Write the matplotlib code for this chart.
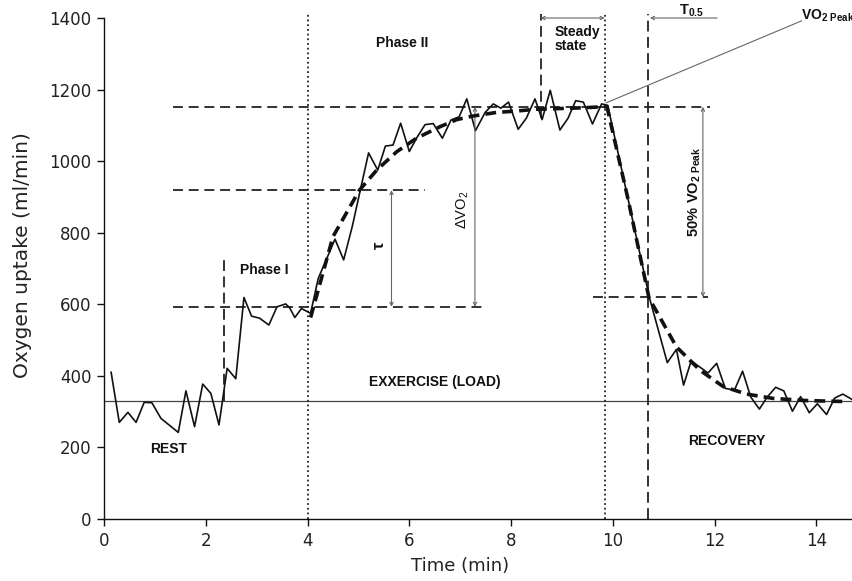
import matplotlib
matplotlib.use("Agg")
import matplotlib.pyplot as plt

# Measured breath-averaged VO2 (ml/min) against time (min)
time_min = [0.14, 0.30, 0.47, 0.63, 0.79, 0.94, 1.12, 1.46, 1.61, 1.78, 1.94, 2.10,
            2.26, 2.42, 2.59, 2.75, 2.90, 3.06, 3.24, 3.40, 3.57, 3.65, 3.75, 3.88,
            4.06, 4.21, 4.54, 4.71, 4.88, 5.04, 5.20, 5.38, 5.53, 5.68, 5.83, 6.00,
            6.15, 6.31, 6.47, 6.65, 6.82, 6.98, 7.13, 7.30, 7.49, 7.65, 7.80, 7.95,
            8.14, 8.30, 8.47, 8.61, 8.77, 8.96, 9.12, 9.27, 9.42, 9.60, 9.78, 9.90,
            10.72, 11.07, 11.25, 11.39, 11.54, 11.87, 12.04, 12.21, 12.39, 12.55,
            12.71, 12.88, 13.03, 13.20, 13.36, 13.53, 13.69, 13.86, 14.02, 14.20,
            14.36, 14.52, 14.69]
vo2_ml_min = [410, 270, 298, 270, 326, 325, 281, 242, 358, 258, 377, 351,
              263, 421, 392, 619, 567, 561, 542, 593, 601, 590, 563, 588,
              575, 672, 782, 724, 818, 921, 1023, 975, 1042, 1045, 1106, 1027,
              1066, 1102, 1105, 1064, 1115, 1124, 1174, 1085, 1136, 1160, 1148, 1165,
              1089, 1120, 1174, 1116, 1198, 1087, 1120, 1169, 1165, 1104, 1160, 1156,
              618, 437, 474, 374, 442, 408, 435, 365, 360, 413,
              341, 307, 340, 368, 358, 301, 342, 297, 322, 292,
              338, 349, 335]

# Mono-exponential model fits (on- and off-kinetics)
on_fit_t = [4.06, 4.50, 5.02, 5.36, 5.75, 6.14, 6.60, 6.93, 7.25, 7.71, 8.10, 8.50, 9.21, 9.85]
on_fit_vo2 = [563, 789, 919, 975, 1026, 1064, 1096, 1116, 1126, 1136, 1140, 1145, 1148, 1152]
off_fit_t = [9.88, 10.30, 10.71, 11.25, 11.71, 12.17, 12.63, 13.15, 13.80, 14.62]
off_fit_vo2 = [1155, 893, 618, 481, 416, 370, 349, 337, 331, 328]

# Reference levels and phase boundaries
rest_level = 330
phase1_level = 593
tau_level = 919
peak_level = 1152
half_level = 620
exercise_start = 4.0
steady_end = 9.84
t_half = 10.7
phase1_mark = 2.36
steady_start = 8.58

x_ticks = [0, 2, 4, 6, 8, 10, 12, 14]
y_ticks = [0, 200, 400, 600, 800, 1000, 1200, 1400]

plt.rcParams["mathtext.fontset"] = "custom"
plt.rcParams["mathtext.rm"] = "Liberation Sans"
plt.rcParams["mathtext.bf"] = "Liberation Sans:bold"

W, H = 853, 581
fig = plt.figure(figsize=(W / 100, H / 100), dpi=100)
ax = fig.add_axes([104 / W, 62 / H, (W - 104) / W, (519 - 18) / H])
ax.set_xlim(0, 14.72)
ax.set_ylim(0, 1400)

ink = "#111111"
thin = "#666666"

# baseline (rest) level across the whole record
ax.axhline(rest_level, color="#444444", lw=0.9, zorder=1)

# horizontal reference levels
dash = dict(color="#222222", lw=1.3, dashes=(5.5, 3.2), zorder=2)
ax.plot([1.36, 7.42], [phase1_level, phase1_level], **dash)
ax.plot([1.36, 6.31], [tau_level, tau_level], **dash)
ax.plot([1.36, 11.9], [peak_level, peak_level], **dash)
ax.plot([9.61, 11.87], [half_level, half_level], **dash)

# vertical phase boundaries
dot = dict(color="#222222", lw=1.3, dashes=(1, 1.6), zorder=2, clip_on=False)
ax.plot([exercise_start, exercise_start], [0, 1410], **dot)
ax.plot([steady_end, steady_end], [0, 1410], **dot)
ax.plot([t_half, t_half], [0, 1410], color="#222222", lw=1.3, dashes=(6, 3), zorder=2, clip_on=False)
ax.plot([phase1_mark, phase1_mark], [330, 730], color="#222222", lw=1.3, dashes=(6, 3), zorder=2)
ax.plot([steady_start, steady_start], [1120, 1410], color="#222222", lw=1.3, dashes=(6, 3), zorder=2, clip_on=False)

# measured data and model fits
ax.plot(time_min, vo2_ml_min, color=ink, lw=1.2, zorder=3)
ax.plot(on_fit_t, on_fit_vo2, color=ink, lw=2.6, dashes=(3, 1.7), zorder=4)
ax.plot(off_fit_t, off_fit_vo2, color=ink, lw=2.6, dashes=(3, 1.7), zorder=4)

# dimension arrows
arr = dict(arrowstyle="<->", color=thin, lw=0.8, shrinkA=0, shrinkB=0, mutation_scale=6)
ax.annotate("", xy=(5.65, tau_level), xytext=(5.65, phase1_level), arrowprops=arr)
ax.annotate("", xy=(7.29, peak_level), xytext=(7.29, phase1_level), arrowprops=arr)
ax.annotate("", xy=(11.77, peak_level), xytext=(11.77, half_level), arrowprops=arr)
ax.annotate("", xy=(steady_start, 1400), xytext=(steady_end, 1400), arrowprops=arr,
            annotation_clip=False)
ax.annotate("", xy=(t_half + 0.03, 1400), xytext=(12.05, 1400),
            arrowprops=dict(arrowstyle="->", color=thin, lw=0.8, shrinkA=0, shrinkB=0,
                            mutation_scale=6), annotation_clip=False)
ax.plot([9.87, 13.71], [1163, 1392], color=thin, lw=0.8, clip_on=False, zorder=2)

# text labels
lab = dict(family=["Liberation Sans", "DejaVu Sans"], fontweight="bold", fontsize=10, color=ink)
ax.text(3.14, 696, "Phase I", ha="center", va="center", **lab)
ax.text(5.85, 1330, "Phase II", ha="center", va="center", **lab)
ax.text(8.86, 1341, "Steady\nstate", ha="left", va="center", linespacing=1.05, **lab)
ax.text(6.5, 383, "EXXERCISE (LOAD)", ha="center", va="center", **lab)
ax.text(1.26, 196, "REST", ha="center", va="center", **lab)
ax.text(12.24, 218, "RECOVERY", ha="center", va="center", **lab)

ax.text(13.70, 1405, r"$\mathbf{VO}_{\mathbf{2\ Peak}}$", ha="left", va="center",
        fontsize=10, color=ink, clip_on=False)
ax.text(11.3, 1398, r"$\mathbf{T}_{\mathbf{0.5}}$", ha="left", va="bottom",
        fontsize=10.5, color=ink, clip_on=False)
ax.text(11.6, 913, r"$\mathbf{50\%\ VO}_{\mathbf{2\ Peak}}$", ha="center", va="center",
        rotation=90, fontsize=10.5, color=ink)
ax.text(7.05, 863, r"ΔVO$_2$", ha="center", va="center", rotation=90,
        family=["Liberation Sans", "DejaVu Sans"], fontsize=10.5, color=ink)
ax.text(5.42, 765, "τ", ha="center", va="center", rotation=90,
        family=["Liberation Sans", "DejaVu Sans"], fontsize=12, fontweight="bold", color=ink)

# axes styling
for side in ("top", "right"):
    ax.spines[side].set_visible(False)
for side in ("left", "bottom"):
    ax.spines[side].set_linewidth(1.0)
    ax.spines[side].set_color(ink)
ax.set_xticks(x_ticks)
ax.set_yticks(y_ticks)
ax.tick_params(direction="out", length=5, width=1, labelsize=12, colors=ink, pad=4)
for t in ax.get_xticklabels() + ax.get_yticklabels():
    t.set_family("DejaVu Sans")
    t.set_color("#222222")
ax.set_xlabel("Time (min)", fontsize=13, family="DejaVu Sans", color="#222222")
ax.set_ylabel("Oxygen uptake (ml/min)", fontsize=14.5, family="DejaVu Sans", color="#222222")
ax.xaxis.set_label_coords((460 - 104) / 749, (519 - 557) / 501)
ax.yaxis.set_label_coords((32 - 104) / 749, (519 - 255) / 501)

fig.savefig("out.png", dpi=100)
